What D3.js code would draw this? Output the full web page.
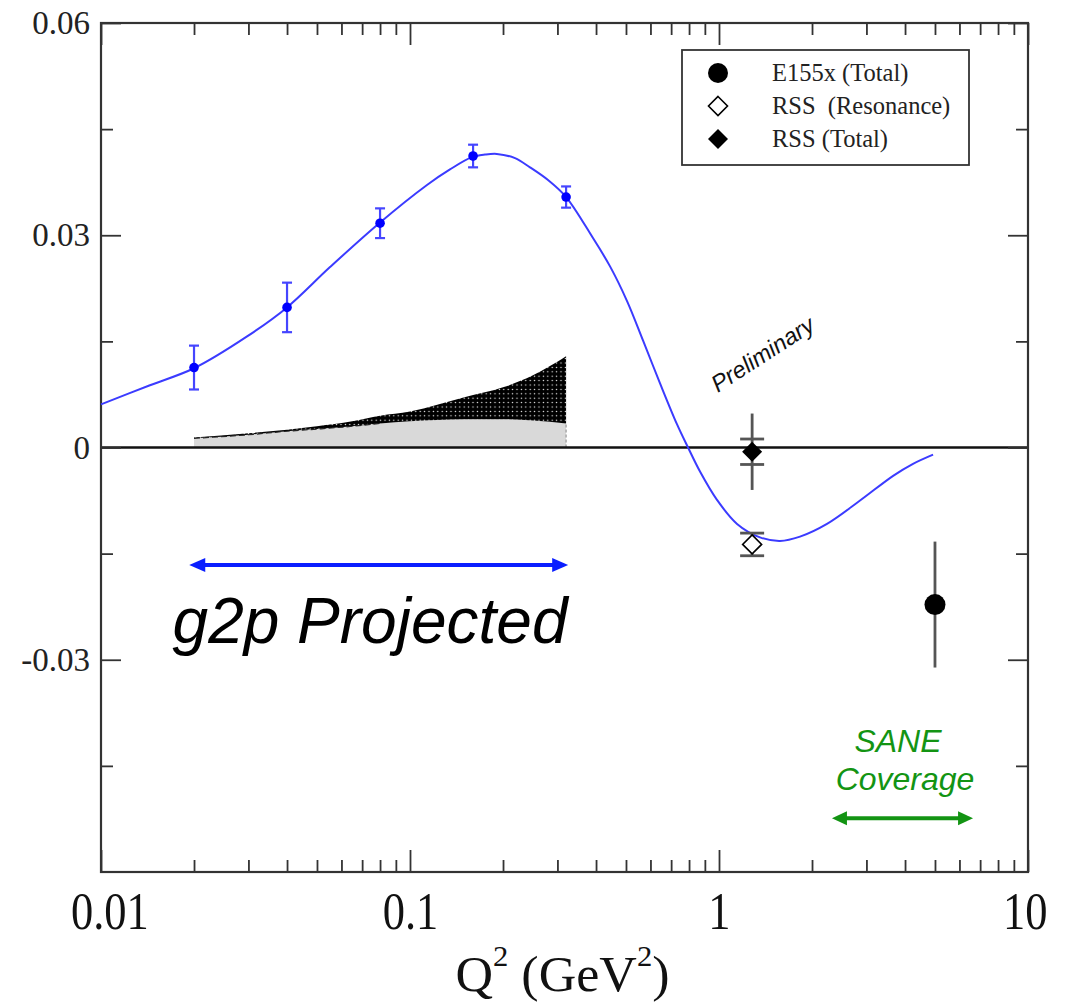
<!DOCTYPE html>
<html>
<head>
<meta charset="utf-8">
<script src="https://cdn.jsdelivr.net/npm/d3@7"></script>
<style>
  html, body { margin: 0; padding: 0; background: #fff; }
  svg { display: block; }
</style>
</head>
<body>
<svg id="chart" width="1081" height="1007"></svg>
<script>
// ---------------- DATA ----------------
const xTickValues = [0.01, 0.1, 1, 10];
const xTickLabels = ["0.01", "0.1", "1", "10"];
const yTickValues = [0.06, 0.03, 0, -0.03];
const yTickLabels = ["0.06", "0.03", "0", "-0.03"];
const yMinorValues = [0.045, 0.015, -0.015, -0.045];

// g2p projected points (blue)
const blueQ = [0.02, 0.04, 0.08, 0.16, 0.32];
const blueVal = [0.0113, 0.0198, 0.0317, 0.0412, 0.0354];
const blueErr = [0.0031, 0.0035, 0.0021, 0.0016, 0.0015];

// model curve (blue line)
const curveQ = [0.01, 0.0144, 0.02, 0.0297, 0.04, 0.0551, 0.0795, 0.1135, 0.1347, 0.158, 0.1749, 0.191,
  0.2187, 0.2445, 0.2797, 0.32, 0.391, 0.444, 0.504, 0.568, 0.644, 0.731, 0.794, 0.868, 0.985, 1.144,
  1.357, 1.575, 1.829, 2.236, 2.86, 3.66, 4.245, 4.93];
const curveVal = [0.0061, 0.0088, 0.0112, 0.0157, 0.0198, 0.0255, 0.0317, 0.0371, 0.0393, 0.0410, 0.0414, 0.0415,
  0.0409, 0.0396, 0.0378, 0.0354, 0.0296, 0.0256, 0.0207, 0.0151, 0.0091, 0.0033, 0.0, -0.0034, -0.0074, -0.0108,
  -0.0127, -0.0132, -0.0126, -0.0108, -0.0075, -0.0040, -0.0023, -0.0010];

// shaded bands
const shadeQ = [0.02, 0.03, 0.04, 0.05, 0.065, 0.08, 0.1, 0.15, 0.2, 0.25, 0.32];
const lightVal = [0.0013, 0.0018, 0.0023, 0.0026, 0.0030, 0.0034, 0.0037, 0.0040, 0.0040, 0.0038, 0.0034];
const darkVal  = [0.0014, 0.0020, 0.0025, 0.0030, 0.0037, 0.0045, 0.0051, 0.0071, 0.0085, 0.0102, 0.0129];

// RSS and E155x
const rssQ = 1.28;
const rssTotalVal = -0.0006, rssTotalStat = 0.0018, rssTotalSys = 0.0054;
const rssResVal = -0.0137, rssResErr = 0.0016;
const e155Q = 5.0, e155Val = -0.0222, e155Err = 0.0089;

const legendLabels = ["E155x (Total)", "RSS  (Resonance)", "RSS (Total)"];

// annotation ranges
const g2pRange = [0.0193, 0.325];
const saneRange = [2.32, 6.64];

// ---------------- LAYOUT ----------------
const svg = d3.select("#chart");
const L = 101, R = 1028, T = 23, B = 872;
const x = d3.scaleLog().domain([0.01, 10]).range([L, R]);
const y = d3.scaleLinear().domain([-0.06, 0.06]).range([B, T]);
const serif = "'Liberation Serif', 'Times New Roman', serif";
const sans = "'Liberation Sans', Arial, Helvetica, sans-serif";
const frameColor = "#333";

const defs = svg.append("defs");
const P = 4.4;
const pat = defs.append("pattern").attr("id", "dots").attr("patternUnits", "userSpaceOnUse")
  .attr("width", P).attr("height", P);
pat.append("rect").attr("width", P).attr("height", P).attr("fill", "#000");
pat.append("circle").attr("cx", P / 2).attr("cy", P / 2).attr("r", 0.7).attr("fill", "#fff");

// shaded regions
const shade = shadeQ.map((q, i) => ({q, lo: lightVal[i], hi: darkVal[i]}));
svg.append("path").datum(shade)
  .attr("d", d3.area().x(d => x(d.q)).y0(y(0)).y1(d => y(d.lo)).curve(d3.curveMonotoneX))
  .attr("fill", "#d9d9d9");
svg.append("path").datum(shade)
  .attr("d", d3.area().x(d => x(d.q)).y0(d => y(d.lo)).y1(d => y(d.hi)).curve(d3.curveMonotoneX))
  .attr("fill", "url(#dots)");
svg.append("path").datum(shade.slice(0, 6))
  .attr("d", d3.line().x(d => x(d.q)).y(d => y(d.lo)).curve(d3.curveMonotoneX))
  .attr("fill", "none").attr("stroke", "#222").attr("stroke-width", 1.2).attr("stroke-dasharray", "6,3");
svg.append("line")
  .attr("x1", x(shadeQ[shadeQ.length - 1])).attr("x2", x(shadeQ[shadeQ.length - 1]))
  .attr("y1", y(0)).attr("y2", y(lightVal[lightVal.length - 1]))
  .attr("stroke", "#999").attr("stroke-width", 1.2).attr("stroke-dasharray", "3,2");

// zero line
svg.append("line").attr("x1", L).attr("x2", R).attr("y1", y(0)).attr("y2", y(0))
  .attr("stroke", "#111").attr("stroke-width", 2.6);

// axes
function styleAxis(g) {
  g.select(".domain").remove();
  g.selectAll(".tick line").attr("stroke", frameColor).attr("stroke-width", 1.8);
}
svg.append("g").attr("transform", `translate(0,${B})`)
  .call(d3.axisBottom(x).tickValues(xTickValues).tickSize(-22).tickPadding(19)
    .tickFormat((d, i) => xTickLabels[i]))
  .call(styleAxis)
  .call(g => g.selectAll("text").attr("font-family", serif).attr("font-size", 53)
    .attr("fill", "#111").attr("transform", "scale(0.84,1)")
    .attr("dx", (d, i) => i === 0 ? 10 : (i === 3 ? -4 : 0)));
const xMinor = [];
[0.01, 0.1, 1].forEach(dec => { for (let k = 2; k <= 9; k++) xMinor.push(dec * k); });
svg.append("g").attr("transform", `translate(0,${B})`)
  .call(d3.axisBottom(x).tickValues(xMinor).tickSize(-12).tickFormat(""))
  .call(styleAxis);
svg.append("g").attr("transform", `translate(0,${T})`)
  .call(d3.axisTop(x).tickValues(xTickValues).tickSize(-22).tickFormat(""))
  .call(styleAxis);
svg.append("g").attr("transform", `translate(0,${T})`)
  .call(d3.axisTop(x).tickValues(xMinor).tickSize(-12).tickFormat(""))
  .call(styleAxis);

svg.append("g").attr("transform", `translate(${L},0)`)
  .call(d3.axisLeft(y).tickValues(yTickValues).tickSize(-20).tickPadding(11)
    .tickFormat((d, i) => yTickLabels[i]))
  .call(styleAxis)
  .call(g => g.selectAll("text").attr("font-family", serif).attr("font-size", 33).attr("fill", "#222"));
svg.append("g").attr("transform", `translate(${L},0)`)
  .call(d3.axisLeft(y).tickValues(yMinorValues).tickSize(-12).tickFormat(""))
  .call(styleAxis);
svg.append("g").attr("transform", `translate(${R},0)`)
  .call(d3.axisRight(y).tickValues(yTickValues).tickSize(-20).tickFormat(""))
  .call(styleAxis);
svg.append("g").attr("transform", `translate(${R},0)`)
  .call(d3.axisRight(y).tickValues(yMinorValues).tickSize(-12).tickFormat(""))
  .call(styleAxis);

// frame
svg.append("rect").attr("x", L).attr("y", T).attr("width", R - L).attr("height", B - T)
  .attr("fill", "none").attr("stroke", frameColor).attr("stroke-width", 2.2);

// x-axis title
const title = svg.append("text").attr("transform", `translate(${(L + R) / 2 - 2},991) scale(1.02,1)`)
  .attr("text-anchor", "middle").attr("font-family", serif).attr("font-size", 51).attr("fill", "#111");
title.append("tspan").text("Q");
title.append("tspan").attr("font-size", 30).attr("dy", -25).text("2");
title.append("tspan").attr("dy", 25).text(" (GeV");
title.append("tspan").attr("font-size", 30).attr("dy", -25).text("2");
title.append("tspan").attr("dy", 25).text(")");

// model curve
const curveData = curveQ.map((q, i) => ({q, v: curveVal[i]}));
svg.append("path").datum(curveData)
  .attr("d", d3.line().x(d => x(d.q)).y(d => y(d.v)).curve(d3.curveCatmullRom.alpha(0.5)))
  .attr("fill", "none").attr("stroke", "#3b3bff").attr("stroke-width", 2);

// blue points
const blue = blueQ.map((q, i) => ({q, v: blueVal[i], e: blueErr[i]}));
const bg = svg.append("g").attr("stroke", "#4545ff").attr("stroke-width", 2.2);
blue.forEach(d => {
  const cx = x(d.q);
  bg.append("line").attr("x1", cx).attr("x2", cx).attr("y1", y(d.v + d.e)).attr("y2", y(d.v - d.e));
  bg.append("line").attr("x1", cx - 5).attr("x2", cx + 5).attr("y1", y(d.v + d.e)).attr("y2", y(d.v + d.e));
  bg.append("line").attr("x1", cx - 5).attr("x2", cx + 5).attr("y1", y(d.v - d.e)).attr("y2", y(d.v - d.e));
});
svg.append("g").selectAll("circle").data(blue).join("circle")
  .attr("cx", d => x(d.q)).attr("cy", d => y(d.v)).attr("r", 4.8).attr("fill", "#0000ff");

// RSS points
const rx = x(rssQ);
const eg = svg.append("g").attr("stroke", "#555").attr("stroke-width", 2.8);
eg.append("line").attr("x1", rx).attr("x2", rx).attr("y1", y(rssTotalVal + rssTotalSys)).attr("y2", y(rssTotalVal - rssTotalSys));
[rssTotalVal + rssTotalStat, rssTotalVal - rssTotalStat, rssResVal + rssResErr, rssResVal - rssResErr].forEach(v => {
  eg.append("line").attr("x1", rx - 12).attr("x2", rx + 12).attr("y1", y(v)).attr("y2", y(v));
});
eg.append("line").attr("x1", rx).attr("x2", rx).attr("y1", y(rssResVal + rssResErr)).attr("y2", y(rssResVal - rssResErr));
const diamond = s => `M0,${-s}L${s},0L0,${s}L${-s},0Z`;
svg.append("path").attr("d", diamond(10)).attr("transform", `translate(${rx},${y(rssTotalVal)})`).attr("fill", "#000");
svg.append("path").attr("d", diamond(9.5)).attr("transform", `translate(${rx},${y(rssResVal)})`)
  .attr("fill", "#fff").attr("stroke", "#000").attr("stroke-width", 1.6);

// E155x
const ex = x(e155Q);
svg.append("line").attr("x1", ex).attr("x2", ex).attr("y1", y(e155Val + e155Err)).attr("y2", y(e155Val - e155Err))
  .attr("stroke", "#555").attr("stroke-width", 2.8);
svg.append("circle").attr("cx", ex).attr("cy", y(e155Val)).attr("r", 10.5).attr("fill", "#000");

// Preliminary label
svg.append("text").attr("transform", `translate(767,361) rotate(-33)`)
  .attr("text-anchor", "middle").attr("font-family", sans).attr("font-style", "italic")
  .attr("font-size", 23.5).attr("fill", "#111").text("Preliminary");

// arrows
function dblArrow(x1, x2, yy, color, w, hl, hw) {
  const g = svg.append("g");
  g.append("line").attr("x1", x1 + hl - 2).attr("x2", x2 - hl + 2).attr("y1", yy).attr("y2", yy)
    .attr("stroke", color).attr("stroke-width", w);
  g.append("path").attr("d", `M${x1},${yy}L${x1 + hl},${yy - hw}L${x1 + hl},${yy + hw}Z`).attr("fill", color);
  g.append("path").attr("d", `M${x2},${yy}L${x2 - hl},${yy - hw}L${x2 - hl},${yy + hw}Z`).attr("fill", color);
}
dblArrow(x(g2pRange[0]), x(g2pRange[1]), y(-0.0166), "#0a1eff", 4, 16, 7);
svg.append("text").attr("x", 370).attr("y", 643).attr("text-anchor", "middle")
  .attr("font-family", sans).attr("font-style", "italic").attr("font-size", 64).attr("fill", "#000")
  .text("g2p Projected");

// SANE
const green = "#139413";
dblArrow(x(saneRange[0]), x(saneRange[1]), y(-0.0524), green, 4, 15, 7);
svg.append("text").attr("x", 898).attr("y", 752).attr("text-anchor", "middle")
  .attr("font-family", sans).attr("font-style", "italic").attr("font-size", 32).attr("fill", green).text("SANE");
svg.append("text").attr("x", 905).attr("y", 790).attr("text-anchor", "middle")
  .attr("font-family", sans).attr("font-style", "italic").attr("font-size", 32).attr("fill", green).text("Coverage");

// legend
const lg = svg.append("g");
lg.append("rect").attr("x", 682).attr("y", 50).attr("width", 287).attr("height", 115)
  .attr("fill", "#fff").attr("stroke", "#333").attr("stroke-width", 1.8);
const rowsY = [73, 106, 139];
lg.append("circle").attr("cx", 718).attr("cy", rowsY[0]).attr("r", 10).attr("fill", "#000");
lg.append("path").attr("d", diamond(9.5)).attr("transform", `translate(718,${rowsY[1]})`)
  .attr("fill", "#fff").attr("stroke", "#000").attr("stroke-width", 1.6);
lg.append("path").attr("d", diamond(10)).attr("transform", `translate(718,${rowsY[2]})`).attr("fill", "#000");
legendLabels.forEach((t, i) => {
  lg.append("text").attr("x", 772).attr("y", rowsY[i] + 8).attr("font-family", serif)
    .attr("font-size", 24.5).attr("fill", "#222").attr("xml:space", "preserve")
    .style("white-space", "pre").text(t);
});
</script>
</body>
</html>
